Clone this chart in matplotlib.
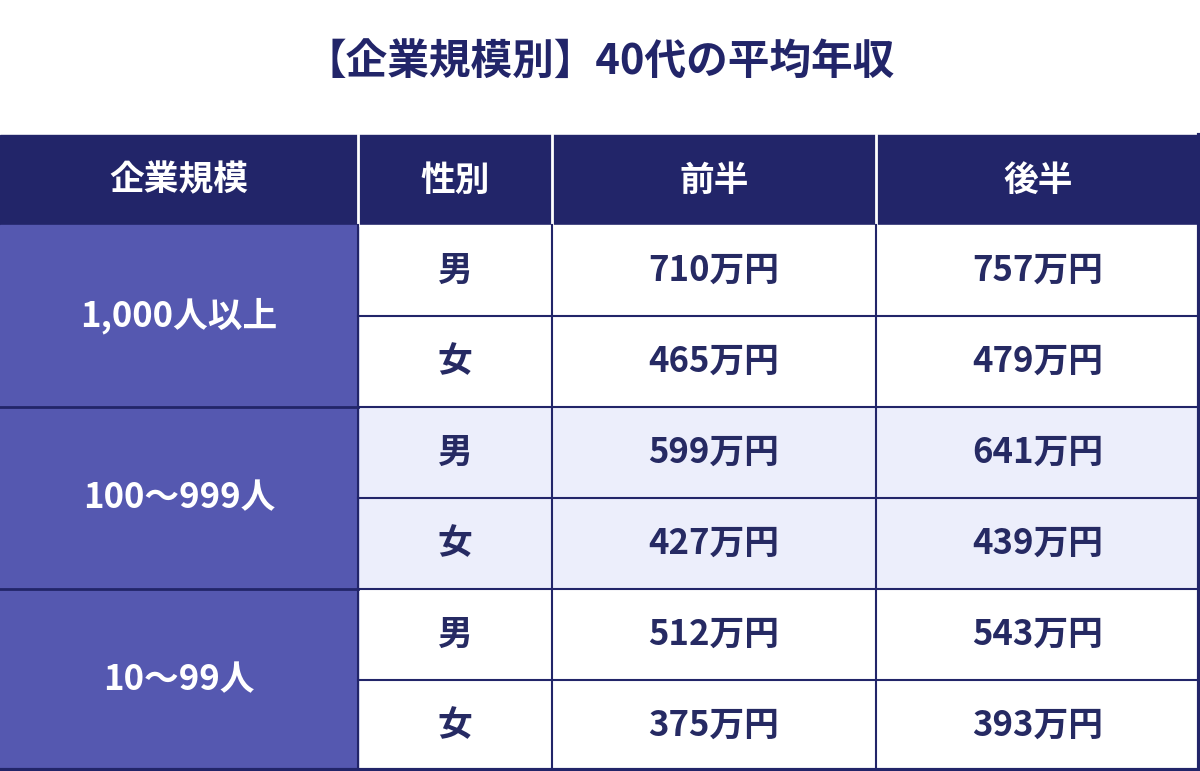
import matplotlib.pyplot as plt
from matplotlib.patches import Rectangle

plt.rcParams['font.family'] = ['Noto Sans CJK JP', 'DejaVu Sans']

title = '【企業規模別】40代の平均年収'
headers = ['企業規模', '性別', '前半', '後半']
sizes = ['1,000人以上', '100〜999人', '10〜99人']
genders = ['男', '女']
first_half = [710, 465, 599, 427, 512, 375]
second_half = [757, 479, 641, 439, 543, 393]

navy = '#222569'
side = '#5558b0'
light = '#eceefb'
text_c = '#262a63'

col_x = [0, 358, 552, 876, 1200]
top = 135
head_h = 90
row_h = (771 - top - head_h) / 6

fig = plt.figure(figsize=(12, 7.71), dpi=100)
ax = fig.add_axes([0, 0, 1, 1])
ax.set_xlim(0, 1200)
ax.set_ylim(771, 0)
ax.axis('off')

ax.text(600, 62, title, ha='center', va='center', fontsize=30,
        fontweight='bold', color=navy)

# header
ax.add_patch(Rectangle((0, top), 1200, head_h, color=navy))
for i, h in enumerate(headers):
    ax.text((col_x[i] + col_x[i + 1]) / 2, top + head_h / 2, h, ha='center',
            va='center', fontsize=25, fontweight='bold', color='white')
    if i > 0:
        ax.plot([col_x[i]] * 2, [top, top + head_h], color='white', lw=2)

for r in range(6):
    y0 = top + head_h + r * row_h
    bg = light if r // 2 == 1 else 'white'
    ax.add_patch(Rectangle((col_x[1], y0), 1200 - col_x[1], row_h, color=bg))
    cells = [genders[r % 2], f'{first_half[r]}万円', f'{second_half[r]}万円']
    for j, t in enumerate(cells):
        ax.text((col_x[j + 1] + col_x[j + 2]) / 2, y0 + row_h / 2, t,
                ha='center', va='center', fontsize=25, fontweight='bold',
                color=text_c)
    ax.plot([col_x[1], 1200], [y0 + row_h] * 2, color=navy, lw=1.5)

for g, s in enumerate(sizes):
    y0 = top + head_h + g * 2 * row_h
    ax.add_patch(Rectangle((0, y0), col_x[1], 2 * row_h, color=side))
    ax.text(col_x[1] / 2, y0 + row_h, s, ha='center', va='center',
            fontsize=25, fontweight='bold', color='white')
    ax.plot([0, col_x[1]], [y0 + 2 * row_h] * 2, color=navy, lw=2)

for x in col_x[1:4]:
    ax.plot([x, x], [top + head_h, 771], color=navy, lw=1.5)
ax.plot([1199, 1199], [top, 771], color=navy, lw=3)
ax.plot([0, 1200], [770, 770], color=navy, lw=3)

fig.savefig('out.png', dpi=100)
